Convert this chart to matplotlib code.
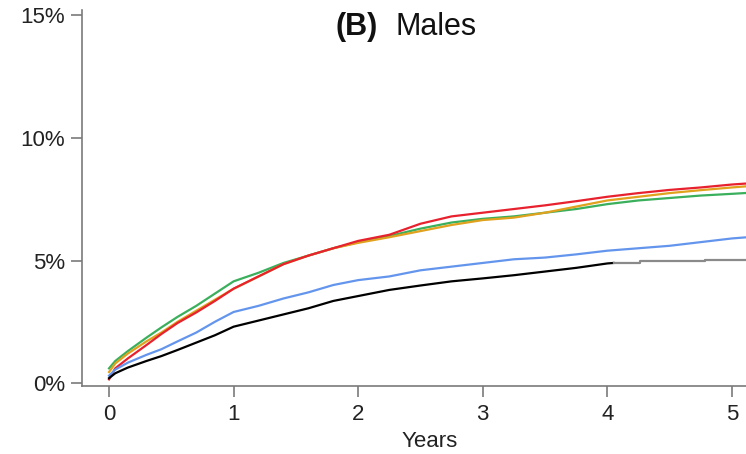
import numpy as np
import matplotlib.pyplot as plt

plt.rcParams['font.family'] = ['Liberation Sans', 'DejaVu Sans']

# years since start, and cumulative incidence (%)
years = [0, 0.05, 0.15, 0.3, 0.42, 0.55, 0.7, 0.85, 1.0, 1.2, 1.4, 1.6, 1.8,
         2.0, 2.25, 2.5, 2.75, 3.0, 3.25, 3.5, 3.75, 4.0, 4.25, 4.5, 4.75,
         5.0, 5.2]

green = [0.6, 0.9, 1.3, 1.85, 2.27, 2.7, 3.15, 3.65, 4.15, 4.5, 4.9, 5.2, 5.5,
         5.75, 6.0, 6.3, 6.55, 6.7, 6.8, 6.95, 7.1, 7.3, 7.45, 7.55, 7.65,
         7.72, 7.78]
orange = [0.45, 0.8, 1.2, 1.7, 2.06, 2.5, 2.95, 3.4, 3.85, 4.35, 4.85, 5.2,
          5.5, 5.72, 5.95, 6.2, 6.45, 6.65, 6.75, 6.95, 7.2, 7.45, 7.6, 7.75,
          7.87, 7.98, 8.06]
red = [0.15, 0.6, 1.0, 1.55, 2.0, 2.45, 2.88, 3.35, 3.85, 4.35, 4.85, 5.2,
       5.5, 5.8, 6.05, 6.5, 6.8, 6.95, 7.1, 7.25, 7.42, 7.6, 7.75, 7.88, 7.98,
       8.1, 8.17]
blue = [0.3, 0.55, 0.83, 1.15, 1.38, 1.7, 2.06, 2.5, 2.9, 3.15, 3.45, 3.7,
        4.0, 4.2, 4.35, 4.6, 4.75, 4.9, 5.05, 5.12, 5.25, 5.4, 5.5, 5.6, 5.75,
        5.9, 5.98]

black_years = [0, 0.05, 0.15, 0.3, 0.42, 0.55, 0.7, 0.85, 1.0, 1.2, 1.4, 1.6,
               1.8, 2.0, 2.25, 2.5, 2.75, 3.0, 3.25, 3.5, 3.75, 4.0, 4.05]
black = [0.2, 0.4, 0.63, 0.9, 1.1, 1.35, 1.65, 1.95, 2.3, 2.55, 2.8, 3.05,
         3.35, 3.55, 3.8, 3.98, 4.15, 4.27, 4.4, 4.55, 4.7, 4.88, 4.9]
tail_years = [4.05, 4.26, 4.26, 4.78, 4.78, 5.2]
tail = [4.9, 4.9, 4.97, 4.97, 5.02, 5.02]

yticks = [0, 5, 10, 15]
ytick_labels = ['0%', '5%', '10%', '15%']
xticks = [0, 1, 2, 3, 4, 5]

fig = plt.figure(figsize=(7.46, 4.54), dpi=100)
ax = fig.add_axes([82/746, (454-386)/454, 696/746, 376/454])

lw = 1.6
ax.plot(years, green, color='#3aaf5c', lw=lw)
ax.plot(years, orange, color='#e0a11d', lw=lw)
ax.plot(years, red, color='#e8212e', lw=lw)
ax.plot(years, blue, color='#6495ed', lw=lw)
ax.plot(black_years, black, color='black', lw=lw)
ax.plot(tail_years, tail, color='#8a8a8a', lw=lw)

ax.set_xlim(-0.217, 5.37)
ax.set_ylim(-0.12, 15.22)

for s in ['top', 'right']:
    ax.spines[s].set_visible(False)
for s in ['left', 'bottom']:
    ax.spines[s].set_color('#7a7a7a')
    ax.spines[s].set_linewidth(1.2)

ax.set_yticks(yticks)
ax.set_yticklabels(ytick_labels)
ax.set_xticks(xticks)
ax.tick_params(axis='both', colors='#7a7a7a', labelcolor='#222222',
               labelsize=16, length=8, width=1.2)
ax.tick_params(axis='y', pad=4)
ax.tick_params(axis='x', pad=5)
ax.set_xlabel('Years', fontsize=16, color='#222222', labelpad=4)

fig.text(378/746, 1 - 27/454, '(B)', fontsize=22, fontweight='bold',
         ha='right', va='center', color='#111111')
fig.text(395/746, 1 - 27/454, 'Males', fontsize=22, ha='left', va='center',
         color='#111111')

fig.savefig('out.png', dpi=100)
